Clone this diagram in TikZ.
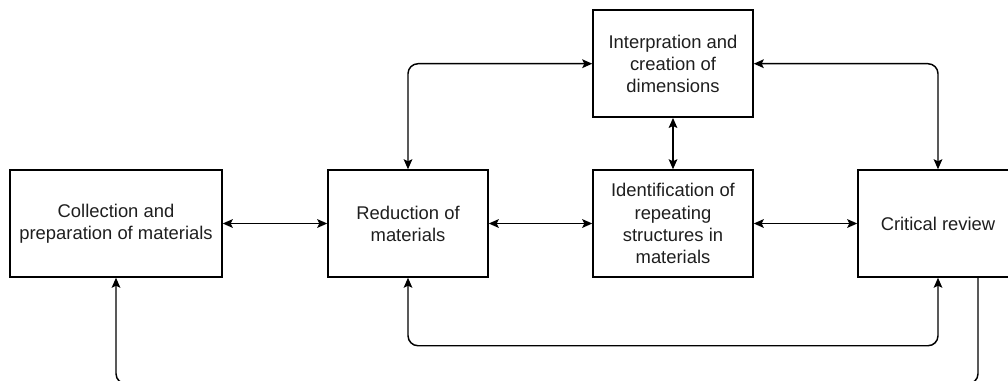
\documentclass[tikz,border=0pt]{standalone}
\usepackage{fontspec}
\setmainfont{Liberation Sans}
\usetikzlibrary{arrows.meta,calc}
\definecolor{txt}{HTML}{1E1E1E}
\tikzset{
  box/.style={draw=black, line width=1.1pt, rectangle, inner sep=0pt,
    minimum width=120pt, minimum height=80.25pt, align=center,
    text=txt, font=\fontsize{13.8pt}{16.6pt}\selectfont},
  conn/.style={draw=black, line width=1.1pt, rounded corners=7.5pt},
  tip/.tip={Stealth[length=7.5pt,width=6.5pt,inset=1.5pt]}
}
\begin{document}
\begin{tikzpicture}[x=0.75pt,y=-0.75pt]
\useasboundingbox (0,0) rectangle (1008,380);
\clip (0,0) rectangle (1008,380);
\node[box, minimum width=159pt] (coll) at (116,223.5) {Collection and\\preparation of materials};
\node[box] (red) at (408,223.5) {Reduction of\\materials};
\node[box] (ident) at (673,223.5) {Identification of\\repeating\\structures in\\materials};
\node[box] (crit) at (938,223.5) {Critical review};
\node[box] (interp) at (673,63.7) {Interpration and\\creation of\\dimensions};

\draw[conn, tip-tip] (coll) -- (red);
\draw[conn, tip-tip] (red) -- (ident);
\draw[conn, tip-tip] (ident) -- (crit);
\draw[conn, tip-tip] (interp) -- (ident);
\draw[conn, tip-tip] (red.north) |- (interp.west);
\draw[conn, tip-tip] (interp.east) -| (crit.north);
\draw[conn, tip-tip] (red.south) -- ++(0,68) -| (crit.south);
\draw[conn, -tip] ([xshift=30pt]crit.south) -- ++(0,106) -| (coll.south);
\end{tikzpicture}
\end{document}
